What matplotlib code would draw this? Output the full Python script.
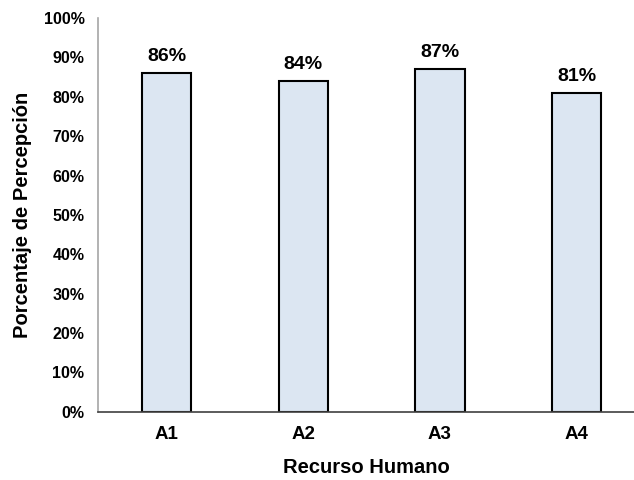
import numpy as np
import matplotlib
matplotlib.use("Agg")
import matplotlib.pyplot as plt
from matplotlib.ticker import FuncFormatter

plt.rcParams['font.family'] = ['Liberation Sans', 'DejaVu Sans']

# datos
categorias = ["A1", "A2", "A3", "A4"]
porcentajes = [86, 84, 87, 81]
yticks = list(range(0, 101, 10))

fig = plt.figure(figsize=(6.34, 4.8), dpi=100)
ax = fig.add_axes([0.155, 0.142, 0.845, 0.8205])

x = np.arange(len(categorias))
barras = ax.bar(x, porcentajes, width=0.36, color="#DCE6F2", edgecolor="black", linewidth=1.5, zorder=2)

for xi, v in zip(x, porcentajes):
    ax.text(xi, v + 2.0, f"{v}%", ha="center", va="bottom", fontsize=14, fontweight="bold")

ax.set_xlim(-0.5, 3.42)
ax.set_ylim(0, 100)
ax.set_yticks(yticks)
ax.yaxis.set_major_formatter(FuncFormatter(lambda v, p: f"{int(v)}%"))
ax.set_xticks(x)
ax.set_xticklabels(categorias)

for lab in ax.get_yticklabels():
    lab.set_fontweight("bold")
    lab.set_fontsize(11.5)
for lab in ax.get_xticklabels():
    lab.set_fontweight("bold")
    lab.set_fontsize(13.5)

ax.tick_params(axis="y", length=0, pad=10)
ax.tick_params(axis="x", length=0, pad=10)

ax.spines["top"].set_visible(False)
ax.spines["right"].set_visible(False)
ax.spines["left"].set_color("#A6A6A6")
ax.spines["left"].set_linewidth(1.2)
ax.spines["bottom"].set_color("#404040")
ax.spines["bottom"].set_linewidth(1.2)

ax.set_xlabel("Recurso Humano", fontsize=14.5, fontweight="bold", labelpad=11)
ax.set_ylabel("Porcentaje de Percepción", fontsize=14.5, fontweight="bold", labelpad=8)

fig.savefig("out.png", dpi=100)
